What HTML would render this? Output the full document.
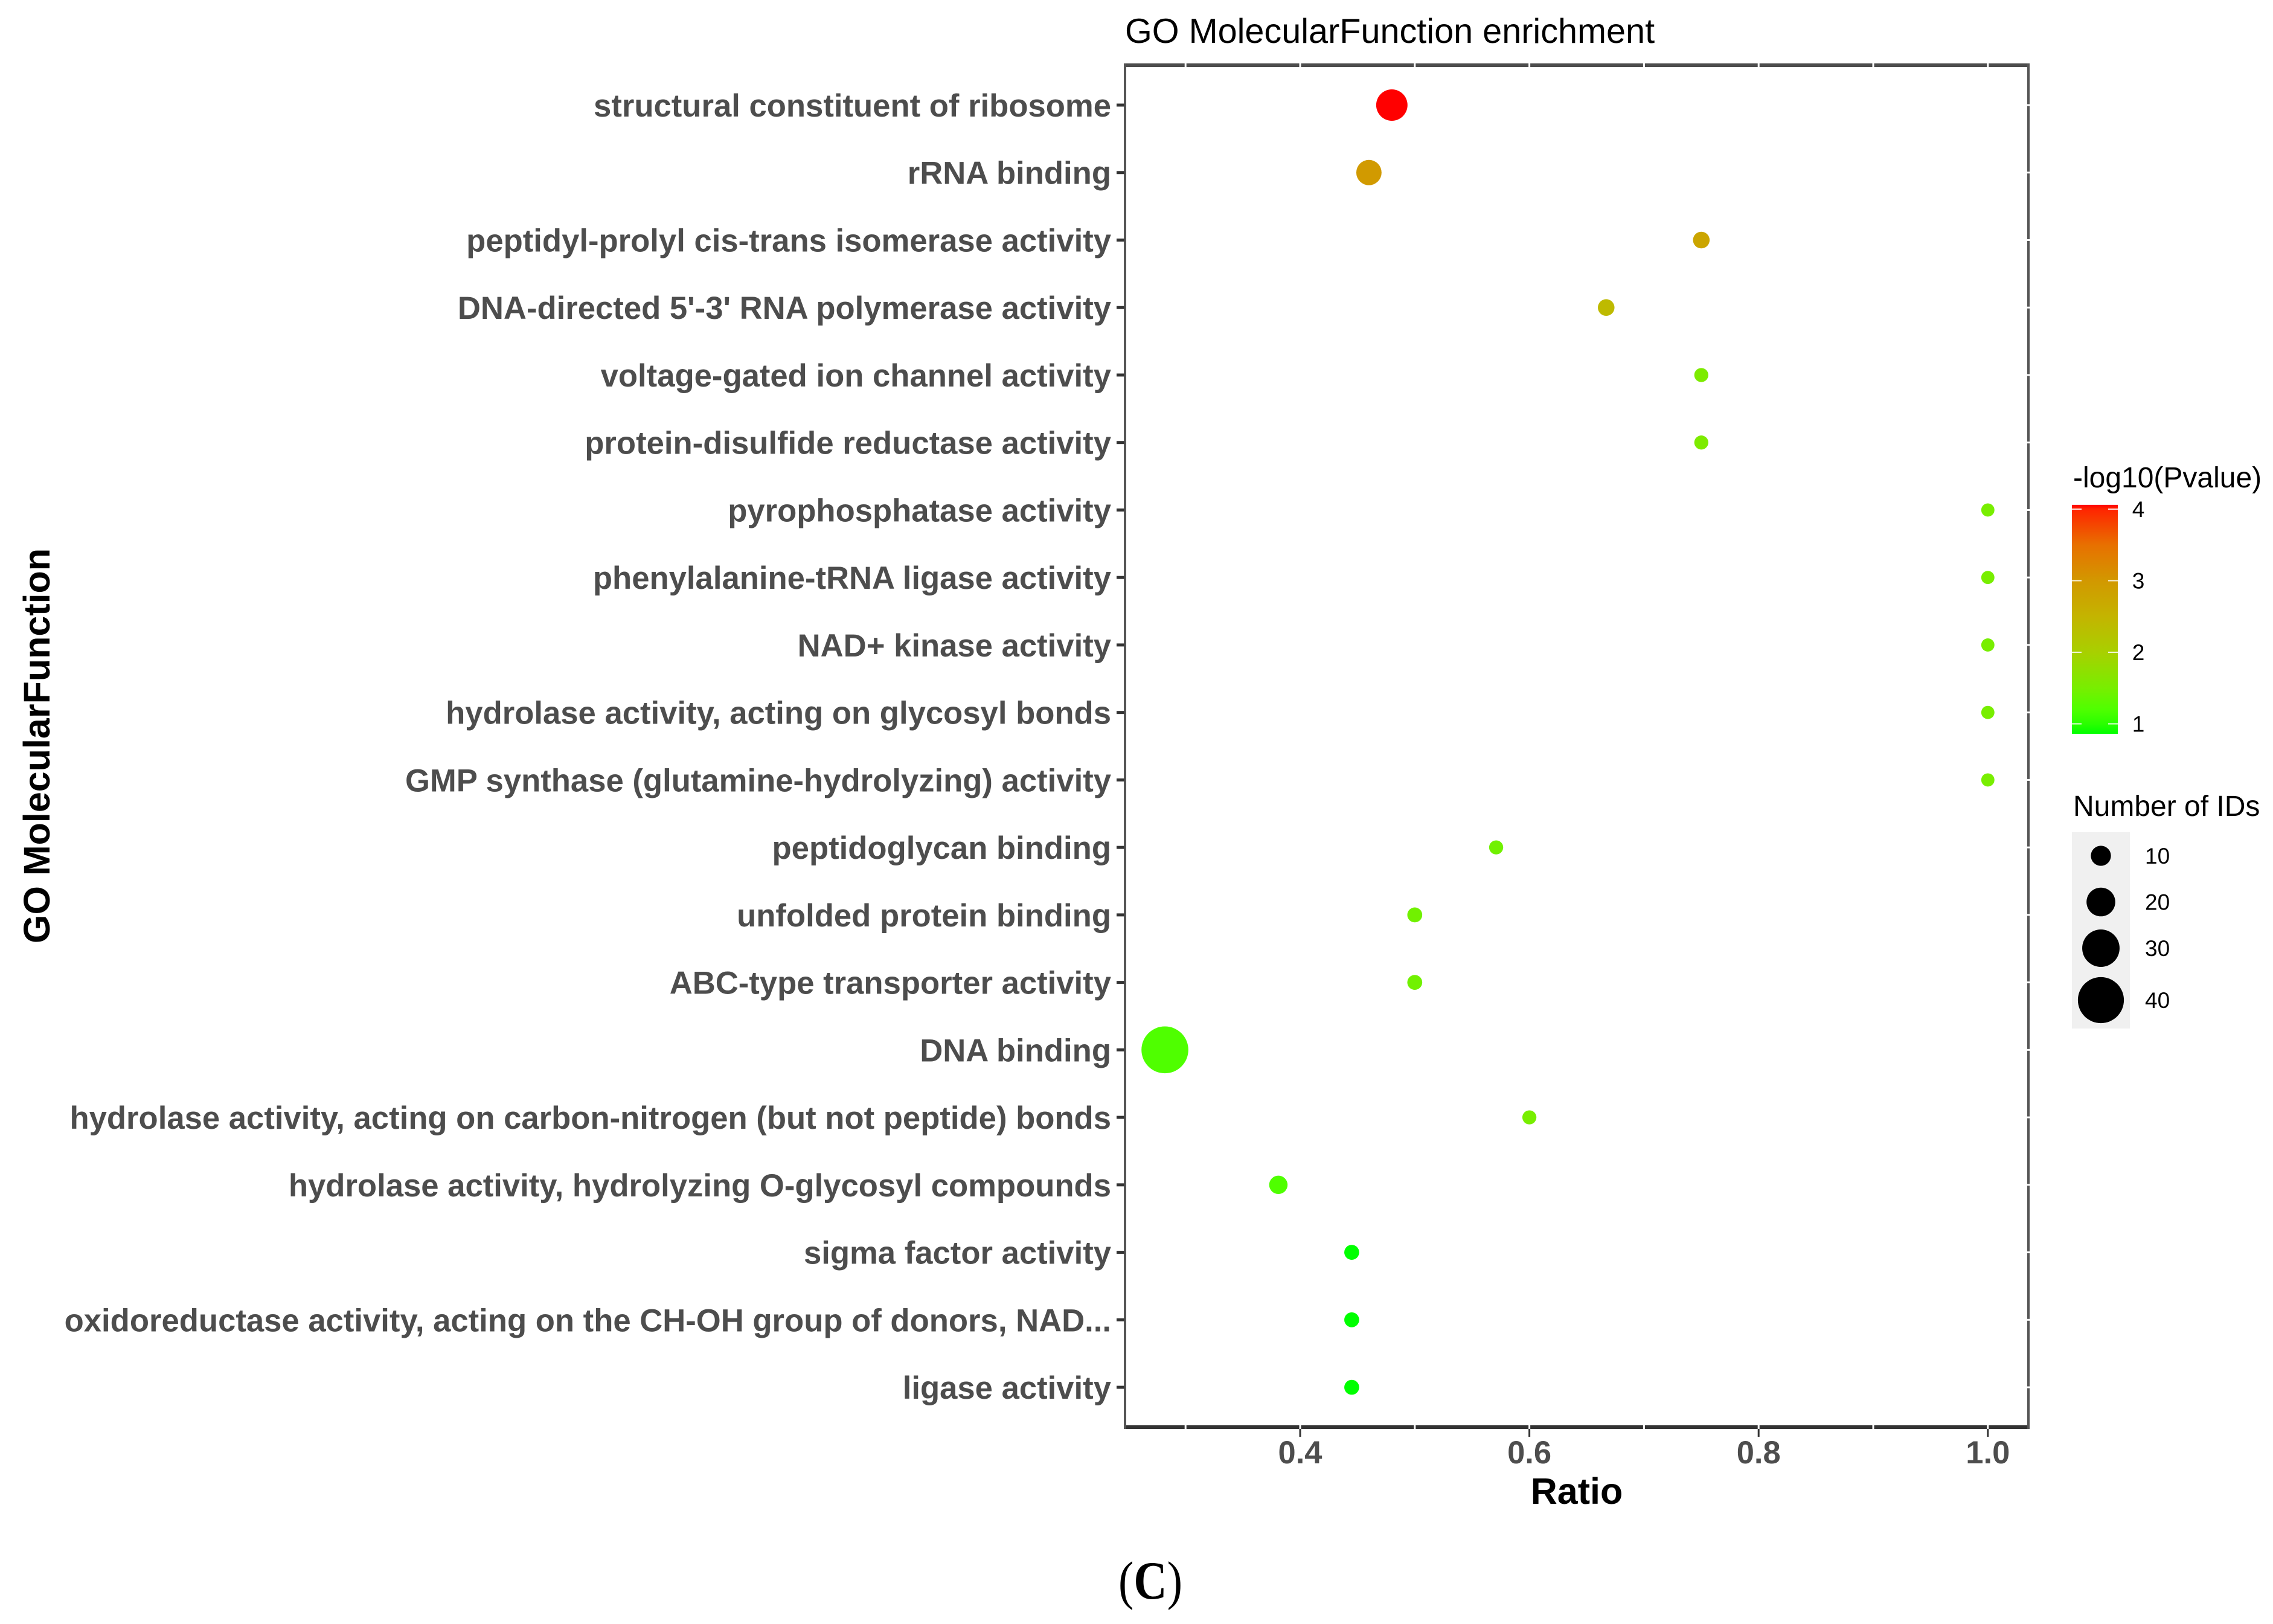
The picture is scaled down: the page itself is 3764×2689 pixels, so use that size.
<!DOCTYPE html>
<html>
<head>
<meta charset="utf-8">
<title>GO MolecularFunction enrichment</title>
<style>
html,body{margin:0;padding:0;background:#fff;}
svg{display:block;}
text{font-family:"Liberation Sans",sans-serif;}
</style>
</head>
<body>
<svg id="chart" xmlns="http://www.w3.org/2000/svg" width="3764" height="2689" viewBox="0 0 3764 2689">
  <rect x="0" y="0" width="3764" height="2689" fill="#ffffff"/>
  <text x="1863" y="71" font-size="57.6" fill="#000">GO MolecularFunction enrichment</text>
  <text transform="translate(82,1562) rotate(-90)" font-size="61" font-weight="bold" fill="#000">GO MolecularFunction</text>
  <text x="2611" y="2490" font-size="61" font-weight="bold" fill="#000" text-anchor="middle">Ratio</text>
  <g id="panel"></g>
  <g id="yaxis"></g>
  <g id="xaxis"></g>
  <g id="points"></g>
  <g id="colorbar">
    <text x="3433" y="807" font-size="48" fill="#000">-log10(Pvalue)</text>
  </g>
  <g id="sizelegend">
    <text x="3433" y="1351" font-size="48" fill="#000">Number of IDs</text>
    <rect x="3431" y="1378" width="96" height="325" fill="#f0f0f0"/>
  </g>
  <text x="1852" y="2647" font-size="89" textLength="106" lengthAdjust="spacingAndGlyphs" fill="#000" style="font-family:'Liberation Serif',serif">(<tspan font-weight="bold">C</tspan>)</text>
</svg>
<script>
const categories = [
  "structural constituent of ribosome",
  "rRNA binding",
  "peptidyl-prolyl cis-trans isomerase activity",
  "DNA-directed 5'-3' RNA polymerase activity",
  "voltage-gated ion channel activity",
  "protein-disulfide reductase activity",
  "pyrophosphatase activity",
  "phenylalanine-tRNA ligase activity",
  "NAD+ kinase activity",
  "hydrolase activity, acting on glycosyl bonds",
  "GMP synthase (glutamine-hydrolyzing) activity",
  "peptidoglycan binding",
  "unfolded protein binding",
  "ABC-type transporter activity",
  "DNA binding",
  "hydrolase activity, acting on carbon-nitrogen (but not peptide) bonds",
  "hydrolase activity, hydrolyzing O-glycosyl compounds",
  "sigma factor activity",
  "oxidoreductase activity, acting on the CH-OH group of donors, NAD...",
  "ligase activity"
];
const ratios = [0.48,0.46,0.75,0.667,0.75,0.75,1,1,1,1,1,0.571,0.5,0.5,0.282,0.6,0.381,0.445,0.445,0.445];
const pvalues = [4.06,2.96,2.76,2.4,1.55,1.55,1.5,1.5,1.5,1.5,1.5,1.45,1.45,1.45,1.2,1.5,1.2,0.86,0.86,0.86];
const counts = [23,16,6,6,3,3,2,2,2,2,2,3,4,4,41,3,8,4,4,4];
const xTicks = [0.4,0.6,0.8,1.0];
const xGridMinor = [0.3,0.5,0.7,0.9];
const colorTicks = [1,2,3,4];
const sizeBreaks = [10,20,30,40];
const colorScaleValues = [0.86,1,1.2,1.5,2,2.5,3,3.5,4,4.06];
const colorScaleHues = ["#00ff00","#2aff00","#4fff00","#78ee00","#a8d000","#c4b400","#d29800","#e87000","#ff2400","#ff0000"];

const NS = "http://www.w3.org/2000/svg";
const PL = 1863, PR = 3359, PT = 108, PB = 2363;
function xScale(r){ return 2153 + (r - 0.4) * 1898; }
function yScale(i){ return 174 + i * 111.74; }
function sizeScale(n){ return 19 + 1.43 * n; }
function colorbarY(v){ return 1198.5 - (v - 1) * 118.5; }
function hexToRgb(h){ return [1,3,5].map(function(k){ return parseInt(h.substr(k,2),16); }); }
function colorScale(v){
  const vs = colorScaleValues;
  if (v <= vs[0]) return colorScaleHues[0];
  for (let i = 1; i < vs.length; i++) {
    if (v <= vs[i]) {
      const t = (v - vs[i-1]) / (vs[i] - vs[i-1]);
      const a = hexToRgb(colorScaleHues[i-1]), b = hexToRgb(colorScaleHues[i]);
      return "rgb(" + a.map(function(c,k){ return Math.round(c + (b[k]-c)*t); }).join(",") + ")";
    }
  }
  return colorScaleHues[colorScaleHues.length-1];
}
function make(tag, attrs, parent){
  const el = document.createElementNS(NS, tag);
  for (const k in attrs) el.setAttribute(k, attrs[k]);
  parent.appendChild(el);
  return el;
}

/* panel border */
const panel = document.getElementById("panel");
const borderTop = make("rect",{x:PL-2,y:PT-3,width:PR-PL+4,height:6,fill:"#4d4d4d"},panel);


const borderBottom = make("rect",{x:PL-2,y:PB-3,width:PR-PL+4,height:6,fill:"#333333"},panel);


const borderLeft = make("rect",{x:PL-2,y:PT-3,width:4,height:PB-PT+6,fill:"#555555"},panel);


const borderRight = make("rect",{x:PR-2,y:PT-3,width:4,height:PB-PT+6,fill:"#555555"},panel);



/* white grid notches over the border */
xTicks.concat(xGridMinor).forEach(function(t){
  const x = xScale(t);
  [PT,PB].forEach(function(y){
    const n = make("rect",{x:x-1.5,y:y-4,width:3,height:8,fill:"#ffffff"},panel);
    
    
  });
});
categories.forEach(function(c,i){
  const n = make("rect",{x:PR-3,y:yScale(i)-1.5,width:6,height:3,fill:"#ffffff"},panel);
  
  
});

/* y axis */
const yaxis = document.getElementById("yaxis");
categories.forEach(function(c,i){
  const y = yScale(i);
  const tick = make("rect",{x:1849,y:y-2.5,width:13,height:5,fill:"#333333"},yaxis);
  
  
  const t = make("text",{x:1840,y:y+19,"font-size":52.65,"font-weight":"bold",fill:"#4d4d4d","text-anchor":"end"},yaxis);
  
  
  t.textContent = c;
});

/* x axis */
const xaxis = document.getElementById("xaxis");
xTicks.forEach(function(v){
  const x = xScale(v);
  const tick = make("rect",{x:x-1.5,y:PB+3,width:3,height:13,fill:"#333333"},xaxis);
  
  
  const t = make("text",{x:x,y:2423,"font-size":52.5,"font-weight":"bold",fill:"#4d4d4d","text-anchor":"middle"},xaxis);
  
  
  t.textContent = v.toFixed(1);
});

/* points */
const points = document.getElementById("points");
categories.forEach(function(c,i){
  const p = make("circle",{cx:xScale(ratios[i]),cy:yScale(i),r:sizeScale(counts[i])/2,fill:colorScale(pvalues[i])},points);
  
  
});

/* colour bar */
const colorbar = document.getElementById("colorbar");
const defs = make("defs",{},colorbar);
const grad = make("linearGradient",{id:"cbgrad",x1:0,y1:1,x2:0,y2:0},defs);
const vMin = colorScaleValues[0], vMax = colorScaleValues[colorScaleValues.length-1];
colorScaleValues.forEach(function(v,i){
  make("stop",{offset:(v-vMin)/(vMax-vMin),"stop-color":colorScaleHues[i]},grad);
});
const cbTop = colorbarY(vMax), cbBot = colorbarY(vMin);
const bar = make("rect",{x:3431,y:cbTop,width:76,height:cbBot-cbTop,fill:"url(#cbgrad)"},colorbar);


colorTicks.forEach(function(v){
  const y = colorbarY(v);
  const a = make("rect",{x:3431,y:y-1,width:16,height:2,fill:"#ffffff",opacity:0.85},colorbar);
  
  
  const b = make("rect",{x:3491,y:y-1,width:16,height:2,fill:"#ffffff",opacity:0.85},colorbar);
  
  
  const t = make("text",{x:3541,y:y+13,"font-size":37,fill:"#000","text-anchor":"middle"},colorbar);
  
  
  t.textContent = String(v);
});

/* size legend */
const sizelegend = document.getElementById("sizelegend");
sizeBreaks.forEach(function(n,i){
  const d = sizeScale(n);
  const legendY = 1417 + 76.5 * i + (i === 3 ? 9.5 : 0);
  const k = make("circle",{cx:3479,cy:legendY,r:d/2,fill:"#000"},sizelegend);
  
  
  const t = make("text",{x:3552,y:legendY+13,"font-size":37,fill:"#000"},sizelegend);
  
  
  t.textContent = String(n);
});
</script>
</body>
</html>
